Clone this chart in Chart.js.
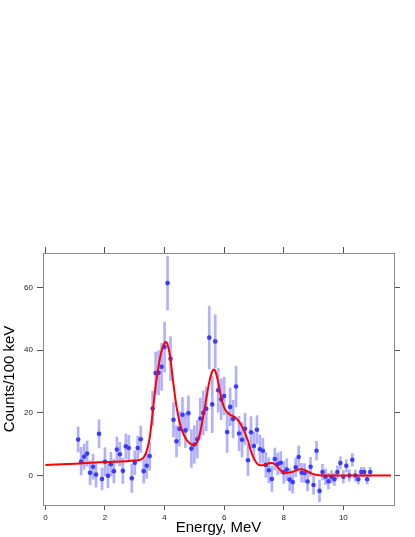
<!DOCTYPE html>
<html>
<head>
<meta charset="utf-8">
<title>Counts vs energy</title>
<script src="https://cdn.jsdelivr.net/npm/chart.js@4/dist/chart.umd.min.js"></script>
<style>
  html, body { margin: 0; padding: 0; background: #fff; }
  #chart { display: block; }
</style>
</head>
<body>
<canvas id="chart" width="415" height="537"></canvas>
<script>
// measured spectrum (MeV, counts per 100 keV, error)
const energy = [
  1.1, 1.2, 1.3, 1.4, 1.5, 1.6, 1.7, 1.8, 1.9, 2.0,
  2.1, 2.2, 2.3, 2.4, 2.5, 2.6, 2.7, 2.8, 2.9, 3.0,
  3.1, 3.2, 3.3, 3.4, 3.5, 3.6, 3.7, 3.8, 3.9, 4.0,
  4.1, 4.2, 4.3, 4.4, 4.5, 4.6, 4.7, 4.8, 4.9, 5.0,
  5.1, 5.2, 5.3, 5.4, 5.5, 5.6, 5.7, 5.8, 5.9, 6.0,
  6.1, 6.2, 6.3, 6.4, 6.5, 6.6, 6.7, 6.8, 6.9, 7.0,
  7.1, 7.2, 7.3, 7.4, 7.5, 7.6, 7.7, 7.8, 7.9, 8.0,
  8.1, 8.2, 8.3, 8.4, 8.5, 8.6, 8.7, 8.8, 8.9, 9.0,
  9.1, 9.2, 9.3, 9.4, 9.5, 9.6, 9.7, 9.8, 9.9, 10.0,
  10.1, 10.2, 10.3, 10.4, 10.5, 10.6, 10.7, 10.8, 10.9
];
const counts = [
  11.5, 4.5, 6.0, 7.0, 0.9, 2.8, 0.3, 13.3, -1.1, 4.4,
  -0.1, 3.6, 1.4, 8.3, 6.8, 1.5, 9.3, 8.8, -0.9, 4.1,
  8.8, 11.6, 1.4, 3.1, 6.2, 21.4, 32.7, 32.8, 34.7, 41.0,
  61.4, 37.3, 17.8, 10.9, 14.9, 19.4, 14.4, 19.9, 8.6, 9.9,
  11.6, 18.2, 20.0, 21.3, 44.0, 22.7, 42.8, 27.2, 24.3, 25.4,
  13.9, 21.9, 18.0, 28.4, 13.4, 11.4, 14.9, 4.9, 13.8, 9.4,
  14.6, 8.4, 7.9, 3.4, 1.7, -1.1, 5.3, 3.7, 4.1, 1.0,
  1.9, -1.3, -2.1, 2.6, 5.9, 0.9, 0.8, -1.9, 2.8, -3.0,
  7.9, -4.9, 1.1, -0.4, -1.8, -0.4, -1.2, 1.1, 4.0, -0.4,
  3.1, 0.0, 5.0, 0.0, -1.2, 1.1, 1.1, -1.2, 1.1
];
const errors = [
  4.0, 4.5, 4.0, 4.0, 3.8, 4.0, 4.0, 4.5, 3.5, 4.5,
  3.8, 3.8, 3.8, 4.0, 3.8, 4.0, 4.0, 4.0, 4.5, 3.8,
  3.8, 4.2, 3.8, 4.0, 4.5, 5.5, 6.7, 7.0, 7.5, 8.0,
  8.6, 7.0, 5.5, 5.0, 5.5, 5.5, 5.5, 5.5, 6.0, 6.0,
  6.0, 6.5, 7.0, 7.0, 10.0, 9.0, 8.5, 7.0, 6.5, 6.0,
  6.5, 6.0, 6.0, 6.5, 5.5, 5.5, 5.0, 5.0, 5.0, 4.5,
  4.5, 4.5, 4.0, 4.0, 4.0, 4.0, 3.5, 3.5, 3.5, 3.5,
  3.5, 3.5, 3.5, 3.0, 3.5, 3.0, 3.0, 3.0, 3.0, 3.0,
  3.0, 3.5, 2.5, 2.5, 2.5, 2.0, 2.0, 2.0, 2.0, 2.0,
  2.0, 1.8, 2.0, 1.8, 1.5, 1.5, 1.5, 1.5, 1.5
];

// fitted curve
const fitEnergy = [
  0, 1.0, 2.0, 3.0, 3.2, 3.3, 3.4, 3.5, 3.6, 3.7,
  3.8, 3.9, 4.0, 4.05, 4.1, 4.2, 4.3, 4.4, 4.5, 4.6,
  4.7, 4.8, 4.9, 5.0, 5.1, 5.2, 5.3, 5.4, 5.5, 5.6,
  5.65, 5.7, 5.8, 5.9, 6.0, 6.1, 6.2, 6.3, 6.4, 6.5,
  6.6, 6.7, 6.8, 6.9, 7.0, 7.1, 7.2, 7.3, 7.4, 7.5,
  7.6, 7.7, 7.8, 7.9, 8.0, 8.1, 8.2, 8.3, 8.4, 8.5,
  8.6, 8.7, 8.8, 8.9, 9.0, 9.2, 9.4, 11.6
];
const fitCounts = [
  3.4, 3.8, 4.3, 4.8, 5.1, 5.8, 7.8, 12.0, 20.0, 28.5,
  35.0, 39.8, 42.3, 42.6, 41.8, 37.0, 29.0, 22.0, 17.2, 14.0,
  12.0, 10.7, 9.9, 9.6, 10.8, 14.0, 19.0, 24.5, 29.8, 33.2,
  33.8, 33.4, 29.8, 24.8, 21.7, 20.2, 19.4, 18.9, 18.3, 17.2,
  15.6, 13.6, 11.0, 7.8, 5.4, 3.9, 3.3, 3.3, 3.5, 3.9,
  4.0, 3.6, 2.7, 1.6, 1.0, 0.8, 1.0, 1.2, 1.6, 1.9,
  2.0, 1.8, 1.3, 0.8, 0.4, 0.1, 0.0, 0.0
];

const xTicks = [0, 2, 4, 6, 8, 10];
const yTicks = [0, 20, 40, 60];

const xMin = -0.08, xMax = 11.7;
const yMin = -9.4, yMax = 71;

const FONT = '"Liberation Sans", Arial, Helvetica, sans-serif';
const AXIS_COLOR = '#8a8a8a';
const TICK_COLOR = '#555';

const setTicks = list => scale => {
  scale.ticks = list.map(v => ({ value: v }));
};

const frameAxis = (position, axis, list, extra) => Object.assign({
  type: 'linear',
  position: position,
  axis: axis,
  min: axis === 'x' ? xMin : yMin,
  max: axis === 'x' ? xMax : yMax,
  afterBuildTicks: setTicks(list),
  grid: { drawOnChartArea: false, drawTicks: true, tickLength: 6, tickColor: TICK_COLOR },
  border: { display: true, color: AXIS_COLOR, width: 1 },
  ticks: { display: false }
}, extra);

const ctx = document.getElementById('chart').getContext('2d');

new Chart(ctx, {
  type: 'scatter',
  data: {
    datasets: [
      {
        type: 'line',
        label: 'fit',
        data: fitEnergy.map((e, i) => ({ x: e, y: fitCounts[i] })),
        borderColor: '#ff0000',
        borderWidth: 2,
        pointRadius: 0,
        showLine: true,
        fill: false,
        cubicInterpolationMode: 'monotone',
        order: 0
      },
      {
        type: 'scatter',
        label: 'data',
        data: energy.map((e, i) => ({ x: e, y: counts[i] })),
        backgroundColor: '#3b3bff',
        borderWidth: 0,
        pointRadius: 2.3,
        order: 1
      },
      {
        type: 'bar',
        label: 'errors',
        data: energy.map((e, i) => ({ x: e, y: [counts[i] - errors[i], counts[i] + errors[i]] })),
        backgroundColor: 'rgba(80, 80, 255, 0.45)',
        borderWidth: 0,
        barThickness: 2,
        order: 2
      }
    ]
  },
  options: {
    responsive: false,
    animation: false,
    events: [],
    layout: { padding: { top: 247, left: 0, right: 0, bottom: 0 } },
    plugins: {
      legend: { display: false },
      tooltip: { enabled: false }
    },
    scales: {
      x: frameAxis('bottom', 'x', xTicks, {
        offset: false,
        afterFit: s => { s.height = 32; },
        grid: { drawOnChartArea: false, drawTicks: true, tickLength: 5, tickColor: TICK_COLOR, offset: false },
        ticks: {
          display: true,
          padding: 3,
          maxRotation: 0,
          color: '#222',
          font: { family: FONT, size: 8 }
        },
        title: {
          display: true,
          text: 'Energy, MeV',
          color: '#000',
          padding: { top: 0, bottom: 0 },
          font: { family: FONT, size: 15 }
        }
      }),
      y: frameAxis('left', 'y', yTicks, {
        afterFit: s => { s.width = 43; },
        ticks: {
          display: true,
          padding: 4,
          color: '#222',
          font: { family: FONT, size: 8 }
        },
        title: {
          display: true,
          text: 'Counts/100 keV',
          color: '#000',
          padding: { top: 1, bottom: 0 },
          font: { family: FONT, size: 15 }
        }
      }),
      xTop: frameAxis('top', 'x', xTicks, {
        afterFit: s => { s.height = 6; }
      }),
      yRight: frameAxis('right', 'y', yTicks, {
        afterFit: s => { s.width = 21; }
      })
    }
  }
});
</script>
</body>
</html>
